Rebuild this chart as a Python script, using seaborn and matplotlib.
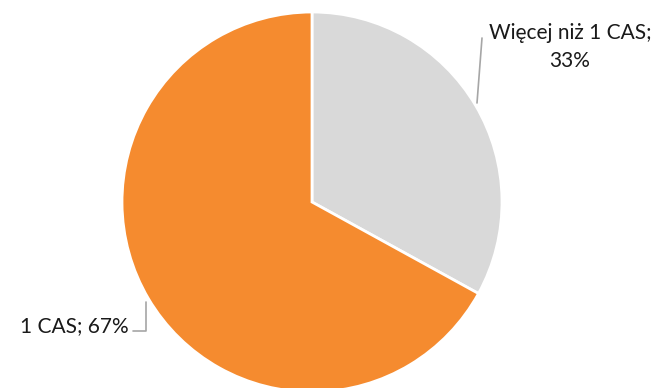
import matplotlib
matplotlib.use("Agg")
import matplotlib.pyplot as plt
import seaborn as sns

categories = ["Więcej niż 1 CAS", "1 CAS"]
values = [33, 67]
colors = ["#D9D9D9", "#F58B2F"]

sns.set_theme(style="white")
plt.rcParams['font.family'] = ['Lato', 'DejaVu Sans']

W, H = 657, 388
fig = plt.figure(figsize=(W / 100, H / 100), dpi=100)
ax = fig.add_axes([0, 0, 1, 1])
ax.set_xlim(0, W)
ax.set_ylim(0, H)
ax.set_aspect('equal')
ax.axis('off')

cx, cy, r = 312, H - 202, 190
ax.pie(values, colors=colors, startangle=90, counterclock=False,
       center=(cx, cy), radius=r, frame=True,
       wedgeprops=dict(edgecolor='white', linewidth=2))
ax.set_xlim(0, W)
ax.set_ylim(0, H)
ax.axis('off')

# labels
lc = '#A6A6A6'
ax.plot([477, 482], [H - 103, H - 38], color=lc, lw=1.2)
ax.text(570, H - 47, f"{categories[0]};\n{values[0]}%", ha='center', va='center',
        fontsize=15, color='#1a1a1a', linespacing=1.45)
ax.plot([133, 146, 146], [H - 331, H - 331, H - 302], color=lc, lw=1.2)
ax.text(129, H - 326, f"{categories[1]}; {values[1]}%", ha='right', va='center',
        fontsize=15, color='#1a1a1a')

fig.savefig("out.png", dpi=100)
